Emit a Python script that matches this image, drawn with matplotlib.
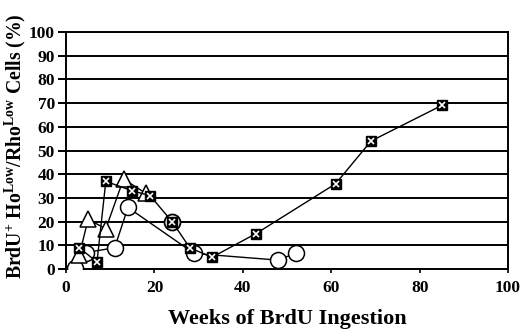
import matplotlib
matplotlib.use("Agg")
import matplotlib.pyplot as plt

plt.rcParams['font.family'] = 'Liberation Serif'
plt.rcParams['font.weight'] = 'bold'
plt.rcParams['mathtext.fontset'] = 'custom'
plt.rcParams['mathtext.rm'] = 'Liberation Serif:bold'
plt.rcParams['mathtext.bf'] = 'Liberation Serif:bold'
plt.rcParams['mathtext.it'] = 'Liberation Serif:bold'

# squares with X
sq_weeks = [3, 7, 9, 15, 19, 24, 28, 33, 43, 61, 69, 85]
sq_vals = [9, 3, 37, 33, 31, 20, 9, 5, 15, 36, 54, 69]
# triangles
tri_weeks = [3, 5, 9, 13, 18]
tri_vals = [6, 21, 17, 38, 32]
# circles
circ_weeks = [2, 4.5, 11, 14, 29, 48, 52]
circ_vals = [0.5, 7, 9, 26, 6.6, 3.8, 6.8]
# lone circle around square at week 24
extra_weeks = [24]
extra_vals = [20]

fig = plt.figure(figsize=(5.2, 3.36), dpi=100)
ax = fig.add_axes([0.127, 0.199, 0.85, 0.706])

ax.set_xlim(0, 100)
ax.set_ylim(0, 100)
ax.set_xticks(range(0, 101, 20))
ax.set_yticks(range(0, 101, 10))
for y in range(10, 101, 10):
    ax.axhline(y, color='black', lw=1.4, zorder=1)

ax.plot(circ_weeks, circ_vals, color='black', lw=1, marker='o', ms=11.5,
        mfc='white', mec='black', mew=1.1, zorder=3)
ax.plot(extra_weeks, extra_vals, ls='none', marker='o', ms=11.5,
        mfc='white', mec='black', mew=1.3, zorder=3)
ax.plot(tri_weeks, tri_vals, color='black', lw=1, marker='^', ms=11,
        mfc='white', mec='black', mew=1.1, zorder=4)
ax.plot(sq_weeks, sq_vals, color='black', lw=1, marker='s', ms=6.5,
        mfc='black', mec='black', zorder=5)
ax.plot(sq_weeks, sq_vals, ls='none', marker='x', ms=4.5,
        mec='white', mew=1.2, zorder=6)

for s in ax.spines.values():
    s.set_linewidth(1.4)
ax.tick_params(axis='y', length=6, width=1.4, labelsize=12.5, pad=2)
ax.tick_params(axis='x', length=3, width=1.2, labelsize=12.5, pad=5)
for lab in ax.get_xticklabels() + ax.get_yticklabels():
    lab.set_fontweight('bold')

ax.set_xlabel('Weeks of BrdU Ingestion', fontsize=16, fontweight='bold', labelpad=9)
ax.set_ylabel(r'BrdU$^{+}$ Ho$^{\mathbf{Low}}$/Rho$^{\mathbf{Low}}$ Cells (%)',
              fontsize=14.2, fontweight='bold')
ax.yaxis.set_label_coords(-0.086, 0.52)

fig.savefig('out.png', dpi=100)
